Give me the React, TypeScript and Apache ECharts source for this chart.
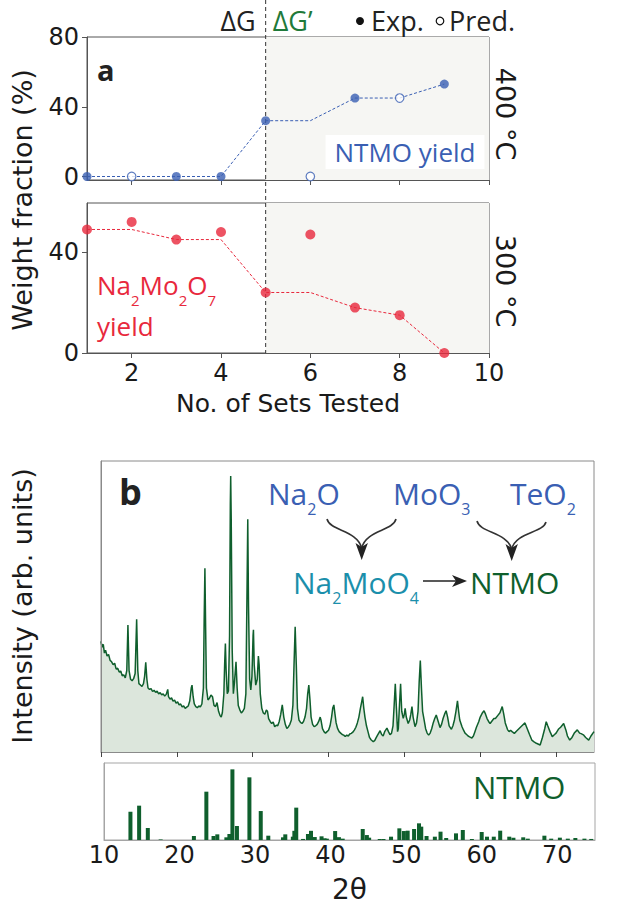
import React, { useEffect, useRef } from "react";
import * as echarts from "echarts";

// ---------------- Data ----------------
const sets = [1, 2, 3, 4, 5, 6, 7, 8, 9];
const ntmoYield = [0, 0, 0, 0, 32, 0, 45, 45, 53];
const ntmoIsPredicted = [false, true, false, false, false, true, false, true, false];
const ntmoBestSoFar = [0, 0, 0, 0, 32, 32, 45, 45, 53];
const na2Mo2O7Yield = [49, 52, 45, 48, 24, 47, 18, 15, 0];
const na2Mo2O7BestSoFar = [49, 49, 45, 45, 24, 24, 18, 15, 0];
const setTicks = [2, 4, 6, 8, 10];
const ntmoTicks = [0, 40, 80];
const na2Ticks = [0, 40];
const thetaTicks = [10, 20, 30, 40, 50, 60, 70];
const deltaGSwitchSet = 5;

// measured XRD pattern: [2θ, intensity (% of frame height)]
const xrdPattern: [number, number][] = [
  [10.0, 38], [10.15, 36], [10.3, 37], [10.45, 34], [10.6, 35], [10.8, 33], [11.0, 33.5], [11.2, 31.5],
  [11.4, 31], [11.6, 30], [11.8, 30.5], [12.0, 28.5], [12.2, 28.8], [12.4, 27.5], [12.6, 27.8], [12.8, 26.2],
  [13.0, 26.5], [13.2, 25.5], [13.4, 28], [13.55, 43.6], [13.7, 28], [13.9, 25], [14.1, 24.5], [14.3, 25.2],
  [14.5, 27], [14.7, 45.6], [14.85, 28], [15.0, 23.5], [15.2, 23], [15.4, 22.5], [15.6, 23.5], [15.75, 26],
  [15.9, 30.8], [16.05, 25], [16.2, 22], [16.4, 21.5], [16.6, 21.8], [16.8, 20.8], [17.0, 21.2], [17.2, 20.5],
  [17.4, 20.9], [17.6, 20], [17.8, 20.4], [18.0, 19.6], [18.2, 20], [18.4, 19.2], [18.6, 19.8], [18.8, 21.5],
  [18.9, 19], [19.1, 18.2], [19.3, 18.6], [19.5, 17.5], [19.7, 17.8], [19.9, 16.8], [20.1, 17.2], [20.3, 16.2],
  [20.5, 16.5], [20.7, 15.5], [20.9, 15.8], [21.1, 15], [21.3, 15.4], [21.5, 15.8], [21.7, 17.5], [21.9, 22],
  [22.0, 23], [22.15, 19], [22.3, 16.5], [22.5, 15.6], [22.7, 15.2], [22.9, 15.8], [23.1, 15.5], [23.3, 16.5],
  [23.5, 22], [23.6, 45], [23.7, 63.1], [23.8, 42], [23.9, 22], [24.1, 17.9], [24.3, 18.5], [24.5, 19.6],
  [24.7, 19], [24.9, 16], [25.1, 15.6], [25.3, 17], [25.5, 14], [25.7, 12.5], [25.85, 12], [26.0, 13.5],
  [26.2, 20], [26.3, 30], [26.4, 37.3], [26.5, 28], [26.65, 20], [26.8, 21], [26.95, 40], [27.05, 85],
  [27.1, 94.8], [27.17, 80], [27.3, 35], [27.45, 20], [27.6, 24], [27.8, 31], [27.95, 22], [28.1, 16],
  [28.3, 14.5], [28.5, 13.4], [28.7, 14], [28.9, 15], [29.1, 20], [29.25, 55], [29.35, 80], [29.45, 50],
  [29.6, 25], [29.75, 21.3], [29.9, 26], [30.05, 40], [30.1, 42], [30.2, 30], [30.4, 23], [30.6, 25],
  [30.75, 33], [30.85, 30], [31.0, 20], [31.2, 15], [31.4, 13.4], [31.6, 13], [31.8, 14.4], [31.95, 14],
  [32.1, 11.5], [32.3, 10.5], [32.5, 9.8], [32.7, 10.3], [32.9, 8.7], [33.1, 9.2], [33.3, 9], [33.5, 10.5],
  [33.7, 13], [33.9, 16.2], [34.1, 12], [34.3, 9.5], [34.5, 8.1], [34.7, 8.6], [34.9, 9.5], [35.1, 11],
  [35.3, 16], [35.45, 30], [35.6, 43], [35.75, 30], [35.9, 15], [36.1, 11], [36.3, 10.2], [36.5, 9.8],
  [36.7, 10.5], [36.9, 12], [37.1, 15], [37.25, 20], [37.4, 23], [37.55, 18], [37.7, 12], [37.9, 9.5],
  [38.1, 8.7], [38.3, 9], [38.5, 9.5], [38.7, 10.5], [38.9, 12], [39.0, 11], [39.2, 8], [39.4, 7],
  [39.6, 6.5], [39.8, 7], [40.0, 7.5], [40.2, 9], [40.4, 12], [40.55, 15], [40.7, 16.2], [40.85, 13],
  [41.0, 10], [41.2, 8], [41.4, 7], [41.6, 6.5], [41.8, 6], [42.0, 5.8], [42.2, 5.3], [42.4, 5.8],
  [42.6, 5.5], [42.8, 6.2], [43.0, 6.4], [43.2, 6.8], [43.4, 7.5], [43.6, 8.5], [43.8, 10], [44.0, 12],
  [44.2, 15], [44.35, 17], [44.5, 19], [44.65, 15], [44.8, 12], [45.0, 9], [45.2, 7], [45.4, 5],
  [45.6, 4.2], [45.9, 3.5], [46.1, 4], [46.3, 5], [46.5, 6], [46.8, 7.3], [47.0, 6], [47.2, 5.5],
  [47.4, 7], [47.7, 8.2], [47.9, 7], [48.1, 6], [48.3, 6.4], [48.5, 9], [48.65, 16], [48.8, 23.4],
  [48.95, 15], [49.1, 7], [49.2, 8], [49.35, 16], [49.5, 23.4], [49.65, 14], [49.85, 11.6], [50.0, 13],
  [50.1, 15], [50.25, 12], [50.5, 9.8], [50.7, 11], [50.85, 13], [51.0, 15.6], [51.15, 12], [51.4, 8.7],
  [51.6, 10], [51.8, 14], [51.95, 24], [52.1, 31.4], [52.25, 22], [52.4, 14], [52.6, 11], [52.8, 8],
  [53.0, 6.5], [53.2, 5.8], [53.4, 6.5], [53.6, 8], [53.8, 10], [54.0, 11.5], [54.2, 12.7], [54.4, 11],
  [54.7, 8.4], [54.9, 9.5], [55.1, 11.5], [55.3, 13], [55.5, 14.2], [55.7, 12], [55.9, 9], [56.2, 7.8],
  [56.4, 9], [56.6, 11], [56.8, 14], [57.0, 17.6], [57.15, 14], [57.3, 11], [57.6, 8.7], [57.8, 7.5],
  [58.0, 6.5], [58.2, 6], [58.4, 5.5], [58.6, 5.2], [58.9, 4.8], [59.1, 5.5], [59.3, 7], [59.5, 8.5],
  [59.8, 10.4], [60.0, 12], [60.3, 13.5], [60.5, 14.2], [60.7, 13], [60.9, 11.5], [61.1, 10.5], [61.3, 9.8],
  [61.5, 10.5], [61.8, 11.5], [62.0, 11.5], [62.3, 12.5], [62.6, 13.5], [62.9, 15.6], [63.1, 13], [63.3, 10],
  [63.6, 7.7], [63.8, 7], [64.0, 7.5], [64.2, 7], [64.5, 6.4], [64.8, 7.2], [65.1, 8], [65.5, 9],
  [65.9, 10], [66.2, 8], [66.5, 6], [66.8, 4.1], [67.1, 3.5], [67.4, 3], [67.9, 2.4], [68.2, 5],
  [68.5, 8], [68.7, 10.4], [68.9, 9], [69.2, 7], [69.5, 5.3], [69.8, 6], [70.0, 6.5], [70.3, 7.8],
  [70.6, 8.5], [71.0, 9.8], [71.3, 7.5], [71.5, 5.5], [71.8, 4.1], [72.1, 5], [72.4, 6.5], [72.8, 7.6],
  [73.1, 6.5], [73.3, 6.3], [73.6, 5.9], [73.9, 5], [74.3, 4.1], [74.6, 5.5], [75.0, 7],
];

// reference (stick) pattern for NTMO: [2θ, relative intensity]
const ntmoSticks: [number, number][] = [
  [13.5, 40], [14.65, 48.6], [15.8, 17], [17.5, 0.8], [21.9, 5.7], [23.55, 68.4], [24.5, 5.7], [25.0, 8],
  [26.2, 3.8], [26.6, 8.5], [27.0, 100], [27.6, 19.8], [29.25, 88.7], [30.75, 41], [31.75, 6.1], [33.7, 3.8],
  [34.0, 8], [35.0, 4.7], [35.2, 13], [35.45, 45.8], [36.35, 1.5], [37.0, 8.5], [37.4, 13], [37.9, 4.2],
  [38.8, 5.2], [39.2, 2.4], [39.5, 1.9], [40.6, 12.7], [41.1, 4], [41.6, 1.9], [44.25, 15.6], [44.8, 7],
  [45.1, 3.3], [46.5, 1.4], [47.0, 1.4], [48.0, 4.7], [49.1, 16.5], [49.7, 12.7], [50.2, 13.2], [51.05, 15.6],
  [51.7, 23.6], [52.0, 18.9], [52.7, 5.7], [53.8, 4.7], [54.55, 11.8], [55.3, 2.8], [56.6, 9.4], [57.5, 14.2],
  [58.7, 1.4], [60.0, 11.3], [60.7, 4.7], [61.6, 4.7], [62.45, 13.2], [63.65, 4.7], [64.2, 3.3], [65.5, 3.8],
  [66.1, 1.9], [68.3, 6.1], [69.2, 1.9], [70.35, 3.3], [71.4, 1.9], [72.4, 2.8], [73.6, 1.9], [74.5, 1.5],
];

// ---------------- Styles ----------------
const BLUE = "#3a5fb3";
const RED = "#e8283c";
const GREEN = "#0f5f2d";
const DG_GREEN = "#1f7a3a";
const TEAL = "#1b8fab";
const FRAME_A = "#555555";
const FRAME_B = "#8a8a8a";
const FRAME_C = "#a5a5a5";
const ANNOT = "'Open Sans', 'Noto Sans', sans-serif";
const AXISF = "'DejaVu Sans', sans-serif";
const tickText = { fontFamily: AXISF, fontSize: 24, color: "#1a1a1a" };

function formula(parts: [string, boolean][], color: string, main: number, sub: number, lh: number, pad: number) {
  const text = parts.map(([t, isSub]) => `{${isSub ? "s" : "m"}|${t}}`).join("");
  return {
    text,
    verticalAlign: "top",
    align: "left",
    rich: {
      m: { fontSize: main, fontFamily: ANNOT, fill: color, lineHeight: lh },
      s: { fontSize: sub, fontFamily: ANNOT, fill: color, lineHeight: lh, padding: [pad, 0, 0, 0] },
    },
  };
}

function buildGraphics(x5: number, yBottom: number) {
  const arrowStyle = { stroke: "#333", lineWidth: 1.6, fill: null as any };
  return [
    { type: "line", z: 3, shape: { x1: x5, y1: 0, x2: x5, y2: yBottom }, style: { stroke: "#333", lineWidth: 1, lineDash: [4, 3] } },
    { type: "text", x: x5 - 10, y: 20, style: { text: "ΔG", fontFamily: ANNOT, fontSize: 27, fill: "#222", align: "right", verticalAlign: "middle" } },
    { type: "text", x: x5 + 7, y: 20, style: { text: "ΔG’", fontFamily: ANNOT, fontSize: 27, fill: DG_GREEN, align: "left", verticalAlign: "middle" } },
    { type: "circle", shape: { cx: 360, cy: 21, r: 4 }, style: { fill: "#111" } },
    { type: "text", x: 371, y: 20, style: { text: "Exp.", fontFamily: ANNOT, fontSize: 27, fill: "#222", align: "left", verticalAlign: "middle" } },
    { type: "circle", shape: { cx: 440, cy: 21, r: 3.8 }, style: { fill: "#fff", stroke: "#111", lineWidth: 1.2 } },
    { type: "text", x: 449, y: 20, style: { text: "Pred.", fontFamily: ANNOT, fontSize: 27, fill: "#222", align: "left", verticalAlign: "middle" } },
    { type: "text", x: 97, y: 69, z: 6, style: { text: "a", fontFamily: ANNOT, fontWeight: "bold", fontSize: 29, fill: "#222", align: "left", verticalAlign: "middle" } },
    { type: "text", x: 405, y: 152, z: 3, style: { text: "NTMO yield", fontFamily: ANNOT, fontSize: 26, fill: BLUE, align: "center", verticalAlign: "middle", backgroundColor: "#ffffff", padding: [4, 9] } },
    { type: "text", x: 505, y: 114, rotation: -Math.PI / 2, style: { text: "400 °C", fontFamily: AXISF, fontSize: 27, fill: "#1a1a1a", align: "center", verticalAlign: "middle" } },
    { type: "text", x: 505, y: 281, rotation: -Math.PI / 2, style: { text: "300 °C", fontFamily: AXISF, fontSize: 27, fill: "#1a1a1a", align: "center", verticalAlign: "middle" } },
    { type: "text", x: 22, y: 200, rotation: Math.PI / 2, style: { text: "Weight fraction (%)", fontFamily: AXISF, fontSize: 27, fill: "#1a1a1a", align: "center", verticalAlign: "middle" } },
    { type: "text", x: 97, y: 269, z: 6, style: formula([["Na", false], ["2", true], ["Mo", false], ["2", true], ["O", false], ["7", true]], RED, 26, 15, 32, 29) },
    { type: "text", x: 97, y: 326, z: 6, style: { text: "yield", fontFamily: ANNOT, fontSize: 26, fill: RED, align: "left", verticalAlign: "middle" } },
    // panel b
    { type: "text", x: 22, y: 606, rotation: Math.PI / 2, style: { text: "Intensity (arb. units)", fontFamily: AXISF, fontSize: 27, fill: "#1a1a1a", align: "center", verticalAlign: "middle" } },
    { type: "text", x: 119, y: 491, z: 6, style: { text: "b", fontFamily: ANNOT, fontWeight: "bold", fontSize: 36, fill: "#222", align: "left", verticalAlign: "middle" } },
    { type: "text", x: 268, y: 475, z: 6, style: formula([["Na", false], ["2", true], ["O", false]], BLUE, 30, 16, 36, 32) },
    { type: "text", x: 393, y: 475, z: 6, style: formula([["MoO", false], ["3", true]], BLUE, 30, 16, 36, 32) },
    { type: "text", x: 510, y: 475, z: 6, style: formula([["TeO", false], ["2", true]], BLUE, 30, 16, 36, 32) },
    { type: "text", x: 293, y: 564, z: 6, style: formula([["Na", false], ["2", true], ["MoO", false], ["4", true]], TEAL, 30, 16, 36, 32) },
    { type: "text", x: 470, y: 564, z: 6, style: formula([["NTMO", false]], GREEN, 30, 16, 36, 32) },
    { type: "bezierCurve", z: 6, shape: { x1: 327, y1: 519, cpx1: 330, cpy1: 531, cpx2: 357, cpy2: 530, x2: 361.7, y2: 548 }, style: arrowStyle },
    { type: "bezierCurve", z: 6, shape: { x1: 396, y1: 519, cpx1: 393, cpy1: 531, cpx2: 366, cpy2: 530, x2: 361.7, y2: 548 }, style: arrowStyle },
    { type: "polygon", z: 6, shape: { points: [[361.7, 560], [355.5, 543], [361.7, 547], [367.9, 543]] }, style: { fill: "#222" } },
    { type: "bezierCurve", z: 6, shape: { x1: 477, y1: 521, cpx1: 480, cpy1: 533, cpx2: 507, cpy2: 532, x2: 511.7, y2: 549 }, style: arrowStyle },
    { type: "bezierCurve", z: 6, shape: { x1: 546, y1: 522, cpx1: 543, cpy1: 533, cpx2: 516, cpy2: 532, x2: 511.7, y2: 549 }, style: arrowStyle },
    { type: "polygon", z: 6, shape: { points: [[511.7, 561], [505.5, 544], [511.7, 548], [517.9, 544]] }, style: { fill: "#222" } },
    { type: "line", z: 6, shape: { x1: 423, y1: 581, x2: 457, y2: 581 }, style: { stroke: "#222", lineWidth: 1.6 } },
    { type: "polygon", z: 6, shape: { points: [[467, 581], [452, 575], [456, 581], [452, 587]] }, style: { fill: "#222" } },
    { type: "text", x: 473, y: 787, z: 6, style: { text: "NTMO", fontFamily: ANNOT, fontSize: 31, fill: GREEN, align: "left", verticalAlign: "middle" } },
  ];
}

function buildOption() {
  const ntmoExp = sets.filter((_, i) => !ntmoIsPredicted[i]).map((s) => [s, ntmoYield[sets.indexOf(s)]]);
  const ntmoPred = sets.filter((_, i) => ntmoIsPredicted[i]).map((s) => [s, ntmoYield[sets.indexOf(s)]]);
  const shade = {
    silent: true,
    itemStyle: { color: "#f6f6f3" },
    data: [[{ xAxis: deltaGSwitchSet }, { xAxis: 10 }]],
  };
  const axisA = {
    z: 10,
    axisLine: { show: true, onZero: false, lineStyle: { color: FRAME_A, width: 1 } },
    splitLine: { show: false },
  };
  return {
    animation: false,
    grid: [
      { left: 87, top: 37, width: 402, height: 143, show: true, borderColor: FRAME_A, borderWidth: 1, backgroundColor: "transparent" },
      { left: 87, top: 203, width: 402, height: 150, show: true, borderColor: FRAME_A, borderWidth: 1, backgroundColor: "transparent" },
      { left: 101, top: 461, width: 493, height: 291, show: true, borderColor: FRAME_B, borderWidth: 1, backgroundColor: "transparent" },
      { left: 104, top: 763, width: 491, height: 77, show: true, borderColor: FRAME_C, borderWidth: 1, backgroundColor: "transparent" },
    ],
    xAxis: [
      {
        gridIndex: 0, type: "value", min: 1, max: 10, ...axisA,
        axisTick: { show: true, customValues: setTicks, length: 5, lineStyle: { color: FRAME_A } },
        axisLabel: { show: false },
      },
      {
        gridIndex: 1, type: "value", min: 1, max: 10, ...axisA,
        axisTick: { show: true, customValues: setTicks, length: 5, lineStyle: { color: FRAME_A } },
        axisLabel: { customValues: setTicks, margin: 8, ...tickText },
        name: "No. of Sets Tested", nameLocation: "middle", nameGap: 38,
        nameTextStyle: { fontFamily: AXISF, fontSize: 25, color: "#1a1a1a" },
      },
      {
        gridIndex: 2, type: "value", min: 10, max: 75, z: 10,
        axisLine: { show: true, onZero: false, lineStyle: { color: FRAME_B } },
        axisTick: { show: true, customValues: thetaTicks, length: 5, lineStyle: { color: "#444" } },
        axisLabel: { show: false }, splitLine: { show: false },
      },
      {
        gridIndex: 3, type: "value", min: 10, max: 75, z: 10,
        axisLine: { show: true, onZero: false, lineStyle: { color: FRAME_C } },
        axisTick: { show: false },
        axisLabel: { customValues: thetaTicks, margin: 3, ...tickText },
        splitLine: { show: false },
        name: "2θ", nameLocation: "middle", nameGap: 35,
        nameTextStyle: { fontFamily: AXISF, fontSize: 28, color: "#1a1a1a" },
      },
    ],
    yAxis: [
      {
        gridIndex: 0, type: "value", min: -2, max: 80, ...axisA,
        axisTick: { show: true, customValues: ntmoTicks, length: 5, lineStyle: { color: FRAME_A } },
        axisLabel: { customValues: ntmoTicks, margin: 8, ...tickText },
      },
      {
        gridIndex: 1, type: "value", min: 0, max: 59.5, ...axisA,
        axisTick: { show: true, customValues: na2Ticks, length: 5, lineStyle: { color: FRAME_A } },
        axisLabel: { customValues: na2Ticks, margin: 8, ...tickText },
      },
      {
        gridIndex: 2, type: "value", min: 0, max: 100, z: 10,
        axisLine: { show: true, onZero: false, lineStyle: { color: FRAME_B } },
        axisTick: { show: false }, axisLabel: { show: false }, splitLine: { show: false },
      },
      {
        gridIndex: 3, type: "value", min: 0, max: 109, z: 10,
        axisLine: { show: true, onZero: false, lineStyle: { color: FRAME_C } },
        axisTick: { show: false }, axisLabel: { show: false }, splitLine: { show: false },
      },
    ],
    series: [
      {
        name: "NTMO best", type: "line", xAxisIndex: 0, yAxisIndex: 0, z: 4,
        data: sets.map((s, i) => [s, ntmoBestSoFar[i]]),
        symbol: "none", lineStyle: { color: BLUE, width: 1, type: [3, 2] },
        markArea: shade,
      },
      {
        name: "NTMO Exp.", type: "scatter", xAxisIndex: 0, yAxisIndex: 0, z: 12,
        data: ntmoExp, symbol: "circle", symbolSize: 9, itemStyle: { color: BLUE },
      },
      {
        name: "NTMO Pred.", type: "scatter", xAxisIndex: 0, yAxisIndex: 0, z: 12,
        data: ntmoPred, symbol: "circle", symbolSize: 8.5,
        itemStyle: { color: "#ffffff", borderColor: BLUE, borderWidth: 1.2 },
      },
      {
        name: "Na2Mo2O7 best", type: "line", xAxisIndex: 1, yAxisIndex: 1, z: 4,
        data: sets.map((s, i) => [s, na2Mo2O7BestSoFar[i]]),
        symbol: "none", lineStyle: { color: RED, width: 1, type: [3, 2] },
        markArea: shade,
      },
      {
        name: "Na2Mo2O7 Exp.", type: "scatter", xAxisIndex: 1, yAxisIndex: 1, z: 12,
        data: sets.map((s, i) => [s, na2Mo2O7Yield[i]]),
        symbol: "circle", symbolSize: 10, itemStyle: { color: RED },
      },
      {
        name: "XRD", type: "line", xAxisIndex: 2, yAxisIndex: 2, z: 3,
        data: xrdPattern, showSymbol: false, symbol: "none",
        lineStyle: { color: GREEN, width: 1.5 },
        areaStyle: { color: "#dce6dc", opacity: 1 },
      },
      {
        name: "NTMO reference", type: "bar", xAxisIndex: 3, yAxisIndex: 3, z: 3,
        data: ntmoSticks, barWidth: 4, itemStyle: { color: GREEN },
      },
    ],
  };
}

export default function App() {
  const ref = useRef<HTMLDivElement>(null);
  useEffect(() => {
    if (!ref.current) return;
    const chart = echarts.init(ref.current, null, { renderer: "svg" });
    chart.setOption(buildOption() as any);
    const x5 = chart.convertToPixel({ xAxisIndex: 0 }, deltaGSwitchSet) as unknown as number;
    const yBottom = chart.convertToPixel({ yAxisIndex: 1 }, 0) as unknown as number;
    chart.setOption({ graphic: { elements: buildGraphics(x5, yBottom) } } as any);
    return () => chart.dispose();
  }, []);
  return (
    <div
      ref={ref}
      style={{ position: "absolute", left: 0, top: 0, width: 634, height: 907, background: "#ffffff" }}
    />
  );
}
